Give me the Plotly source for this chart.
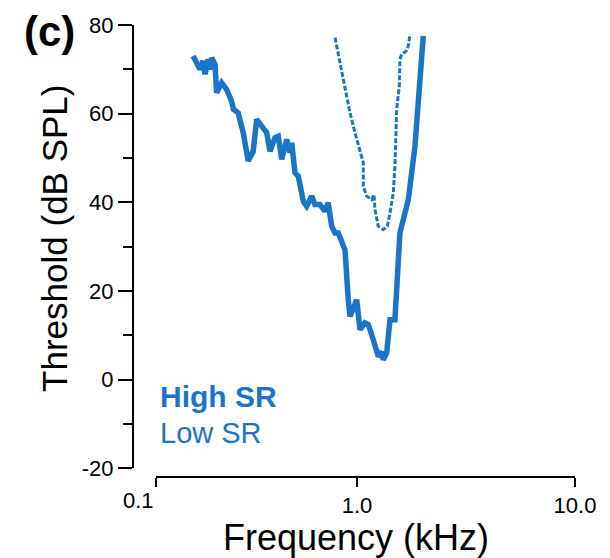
import plotly.graph_objects as go

# High SR tuning curve (solid)
high_freq = [0.177, 0.1905, 0.1966, 0.201, 0.2075, 0.212, 0.2155, 0.2233, 0.227, 0.2393,
             0.2523, 0.266, 0.271, 0.285, 0.3008, 0.317, 0.334, 0.3467, 0.3655, 0.3853,
             0.399, 0.4207, 0.4355, 0.4516, 0.476, 0.493, 0.5017, 0.5196, 0.538, 0.5675,
             0.5877, 0.6194, 0.6415, 0.676, 0.713, 0.738, 0.7655, 0.7925, 0.8206, 0.881,
             0.912, 0.9287, 0.997, 1.032, 1.088, 1.127, 1.188, 1.252, 1.298, 1.320,
             1.368, 1.417, 1.493, 1.547, 1.574, 1.631, 1.719, 1.750, 1.845, 1.910,
             1.945, 2.014]
high_thr = [73.0, 70.0, 71.9, 68.9, 72.25, 70.0, 72.6, 71.1, 64.7, 67.0,
            65.5, 62.8, 61.0, 60.2, 55.7, 49.3, 51.5, 58.7, 57.2, 55.7,
            51.5, 54.6, 54.9, 49.7, 54.2, 51.2, 53.4, 46.65, 45.9, 40.2,
            39.1, 41.4, 39.5, 39.5, 38.0, 39.9, 34.6, 33.1, 33.1, 29.3,
            18.0, 14.25, 18.0, 11.25, 12.8, 12.4, 9.0, 5.2, 6.3, 4.5,
            6.0, 13.5, 13.5, 25.5, 33.1, 36.1, 40.6, 43.6, 52.7, 62.5,
            68.5, 77.5]

# Low SR tuning curve (dashed)
low_freq = [0.793, 0.836, 0.881, 0.9287, 0.979, 1.032, 1.069, 1.069, 1.108, 1.168,
            1.197, 1.209, 1.252, 1.320, 1.377, 1.417, 1.467, 1.493, 1.510, 1.521,
            1.563, 1.574, 1.603, 1.679, 1.719, 1.750]
low_thr = [77.15, 71.5, 66.2, 60.2, 55.7, 51.9, 48.9, 43.6, 41.4, 40.6,
           41.75, 38.4, 34.6, 33.85, 34.6, 37.6, 42.1, 48.1, 54.9, 61.0,
           66.2, 72.25, 73.4, 74.1, 75.25, 77.9]

x_tick_vals = [0.1197, 1.0, 10.0]
x_tick_text = ["", "1.0", "10.0"]
y_tick_vals = [-20, 0, 20, 40, 60, 80]
y_tick_text = ["-20", "0", "20", "40", "60", "80"]

BLUE = "#1a74c8"
FONT = "Liberation Sans, Arial, Helvetica, sans-serif"

fig = go.Figure()
fig.add_trace(go.Scatter(x=high_freq, y=high_thr, mode="lines",
                         line=dict(color=BLUE, width=5.5), showlegend=False))
fig.add_trace(go.Scatter(x=low_freq, y=low_thr, mode="lines",
                         line=dict(color=BLUE, width=3, dash="5px,2px"), showlegend=False))

fig.update_layout(
    width=610, height=558,
    margin=dict(l=133, r=35, t=25, b=81),
    paper_bgcolor="white", plot_bgcolor="white",
    font=dict(family=FONT, color="black"),
    xaxis=dict(type="log", range=[-0.922, 1.0], domain=[0.052, 1],
               anchor="free", position=0,
               showline=True, linecolor="black", linewidth=2,
               ticks="outside", ticklen=9, tickwidth=2, tickcolor="black",
               tickvals=x_tick_vals, ticktext=x_tick_text,
               tickfont=dict(size=22, family=FONT, color="black"),
               showgrid=False, zeroline=False),
    yaxis=dict(range=[-20, 80], domain=[0.0193, 1],
               anchor="free", position=0,
               showline=True, linecolor="black", linewidth=2,
               ticks="outside", ticklen=14, tickwidth=2, tickcolor="black",
               tickvals=y_tick_vals, ticktext=y_tick_text,
               minor=dict(ticks="outside", ticklen=9, tickwidth=2, tickcolor="black",
                          dtick=10, tick0=0),
               tickfont=dict(size=22, family=FONT, color="black"),
               showgrid=False, zeroline=False),
)

ann = [
    dict(text="0.1", x=-0.922, xref="x", xanchor="right", y=-0.053, yref="paper",
         yanchor="middle", font=dict(size=22, family=FONT, color="black")),
    dict(text="Frequency (kHz)", x=0.505, xref="paper", xanchor="center",
         y=-0.133, yref="paper", yanchor="middle", font=dict(size=36, family=FONT, color="black")),
    dict(text="Threshold (dB SPL)", x=-0.1765, xref="paper", xanchor="center",
         y=0.529, yref="paper", yanchor="middle", textangle=-90,
         font=dict(size=35, family=FONT, color="black")),
    dict(text="<b>(c)</b>", x=-0.19, xref="paper", xanchor="center",
         y=0.985, yref="paper", yanchor="middle", font=dict(size=42, family=FONT, color="black")),
    dict(text="<b>High SR</b>", x=0.057, xref="paper", xanchor="left",
         y=0.179, yref="paper", yanchor="middle", font=dict(size=30, family=FONT, color=BLUE)),
    dict(text="Low SR", x=0.057, xref="paper", xanchor="left",
         y=0.0973, yref="paper", yanchor="middle", font=dict(size=29, family=FONT, color=BLUE)),
]
for a in ann:
    a["showarrow"] = False
fig.update_layout(annotations=ann)

fig.write_html("out.html")
